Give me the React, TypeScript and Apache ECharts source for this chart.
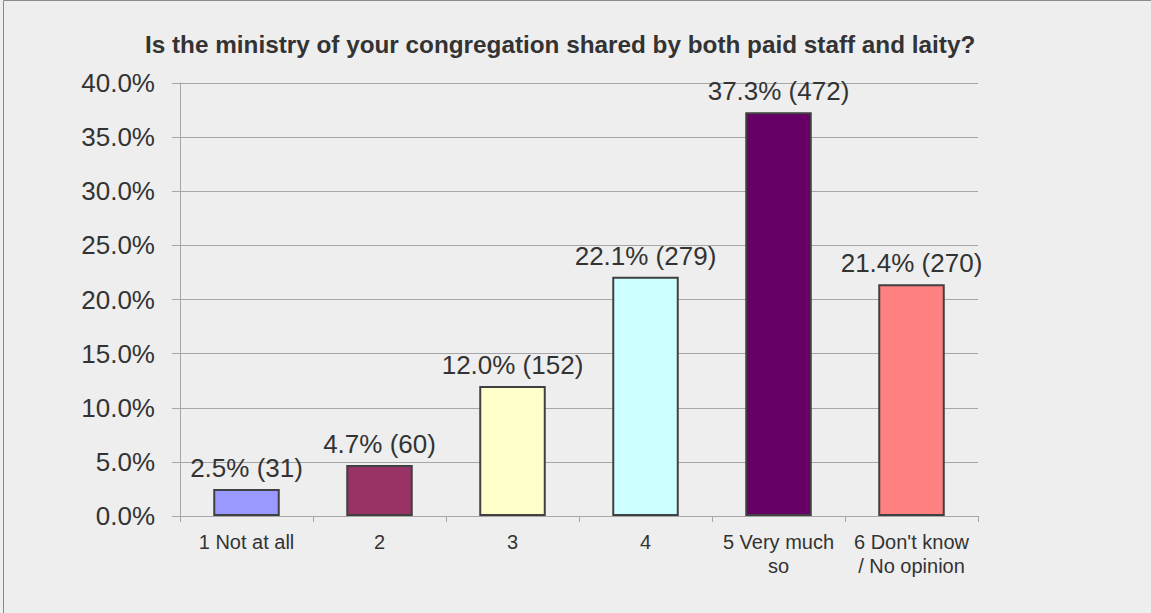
import React, { useEffect, useRef } from "react";
import * as echarts from "echarts";

const categories = ["1 Not at all", "2", "3", "4", "5 Very much\nso", "6 Don't know\n/ No opinion"];
const percents = [2.5, 4.7, 12.0, 22.1, 37.3, 21.4];
const counts = [31, 60, 152, 279, 472, 270];
const barColors = ["#9999ff", "#993366", "#ffffcc", "#ccffff", "#660066", "#ff8080"];
const titleText = "Is the ministry of your congregation shared by both paid staff and laity?";

const FONT = "'Liberation Sans', Arial, sans-serif";

export default function App() {
  const ref = useRef<HTMLDivElement>(null);
  useEffect(() => {
    if (!ref.current) return;
    const chart = echarts.init(ref.current, undefined, { renderer: "svg" });
    chart.setOption({
      animation: false,
      backgroundColor: "#eeeeee",
      textStyle: { fontFamily: FONT },
      title: {
        text: titleText,
        left: 140,
        top: 27,
        textStyle: { fontFamily: FONT, fontSize: 24.3, fontWeight: "bold", color: "#333333" },
      },
      graphic: [
        {
          type: "rect",
          shape: { x: 3.5, y: 0.5, width: 1200, height: 700 },
          style: { fill: "none", stroke: "#8a8a8a", lineWidth: 1 },
          silent: true,
        },
      ],
      grid: { left: 180, right: 173, top: 83, bottom: 97 },
      xAxis: {
        type: "category",
        data: categories,
        axisLine: { lineStyle: { color: "#a6a6a6", width: 1 } },
        axisTick: { show: true, length: 6, lineStyle: { color: "#a6a6a6" } },
        axisLabel: {
          interval: 0,
          margin: 14,
          fontFamily: FONT,
          fontSize: 20,
          lineHeight: 24,
          color: "#333333",
        },
      },
      yAxis: {
        type: "value",
        min: 0,
        max: 40,
        interval: 5,
        axisLine: { show: true, lineStyle: { color: "#a6a6a6", width: 1 } },
        axisTick: { show: true, length: 8, lineStyle: { color: "#a6a6a6" } },
        splitLine: { show: true, lineStyle: { color: "#a6a6a6", width: 1 } },
        axisLabel: {
          margin: 25,
          fontFamily: FONT,
          fontSize: 26,
          color: "#333333",
          formatter: (v: number) => v.toFixed(1) + "%",
        },
      },
      series: [
        {
          type: "bar",
          barWidth: "50%",
          data: percents.map((p, i) => ({
            value: p,
            itemStyle: { color: barColors[i], borderColor: "#404040", borderWidth: 2 },
          })),
          label: {
            show: true,
            position: "top",
            distance: 8,
            fontFamily: FONT,
            fontSize: 26,
            color: "#333333",
            formatter: (p: any) => `${percents[p.dataIndex].toFixed(1)}% (${counts[p.dataIndex]})`,
          },
        },
      ],
    });
    return () => chart.dispose();
  }, []);
  return (
    <div
      ref={ref}
      style={{ position: "fixed", left: 0, top: 0, width: 1151, height: 613 }}
    />
  );
}
